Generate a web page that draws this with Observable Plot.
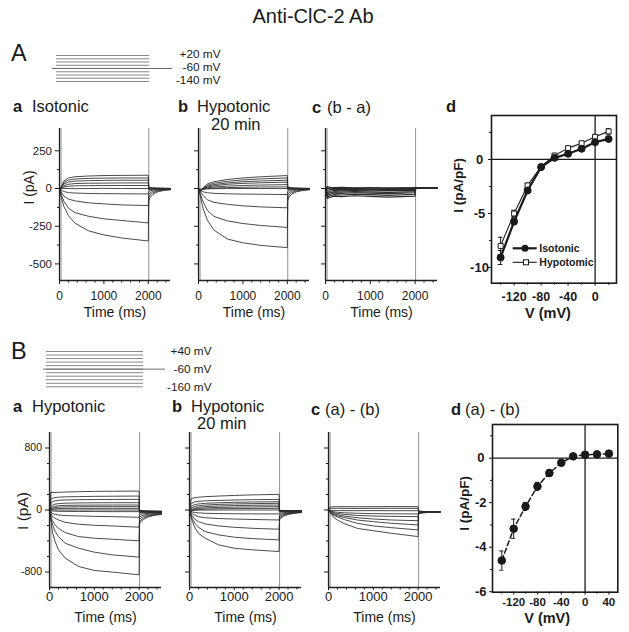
<!DOCTYPE html>
<html><head><meta charset="utf-8">
<script src="https://cdn.jsdelivr.net/npm/d3@7"></script>
<script src="https://cdn.jsdelivr.net/npm/@observablehq/plot@0.6"></script>
<style>
html,body{margin:0;padding:0;background:#fff;}
#fig{position:relative;width:629px;height:632px;overflow:hidden;background:#fff;font-family:"Liberation Sans",Arial,Helvetica,sans-serif;color:#111;}
</style></head><body><div id="fig"></div>
<script>
// ---------------- DATA ----------------
const title = "Anti-ClC-2 Ab";
// voltage protocols (mV) and timing (ms)
const protoA_steps = [-140, -120, -100, -80, -60, -40, -20, 0, 20];
const protoA_hold = -60;
const protoA_stepSpan = [0, 2000];
const protoA_holdSpan = [-86, 2487];
const protoA_labelV = [20, -60, -140];
const protoA_labels = ["+20 mV", "-60 mV", "-140 mV"];
const protoB_steps = [-160, -140, -120, -100, -80, -60, -40, -20, 0, 20, 40];
const protoB_hold = -60;
const protoB_stepSpan = [0, 2000];
const protoB_holdSpan = [-62, 2454];
const protoB_labelV = [40, -60, -160];
const protoB_labels = ["+40 mV", "-60 mV", "-160 mV"];

// current traces (pA) sampled at these times (ms)
const timesA = [0, 40, 100, 200, 350, 650, 1000, 1400, 2000];
const tailTimesA = [2010, 2040, 2100, 2200, 2350, 2500];
const Aa_traces = [
  [0, 10, 50, 70, 78, 83, 86, 87, 88],
  [0, 8, 40, 56, 63, 67, 69, 70, 70],
  [0, 6, 30, 43, 49, 52, 54, 55, 55],
  [0, 4, 18, 28, 33, 35, 36, 37, 37],
  [0, 2, 10, 15, 18, 19, 20, 20, 20],
  [0, -1, 1, 0, -1, 0, 1, 0, 0],
  [0, -10, -20, -27, -30, -33, -34, -35, -36],
  [0, -25, -50, -70, -82, -95, -102, -109, -113],
  [0, -40, -85, -130, -160, -184, -201, -212, -228],
  [0, -60, -120, -180, -230, -280, -308, -328, -348]
];
const Aa_tails = [
  [8, 6, 4, 3, 2, 1], [5, 4, 3, 2, 1, 0], [3, 2, 1, 0, 0, 0], [0, 0, 0, -1, -1, -1],
  [-4, -3, -3, -2, -2, -2], [-10, -8, -6, -4, -3, -3], [-22, -16, -11, -7, -5, -4],
  [-40, -29, -19, -12, -7, -5], [-60, -43, -29, -17, -10, -7], [-82, -60, -40, -23, -13, -8]
];
const Ab_traces = [
  [0, -20, 5, 30, 45, 60, 70, 78, 86],
  [0, -18, 0, 22, 35, 48, 57, 64, 70],
  [0, -15, -2, 15, 26, 37, 45, 50, 55],
  [0, -12, -3, 10, 18, 28, 34, 38, 42],
  [0, -10, -4, 5, 10, 16, 20, 23, 26],
  [0, -8, -5, 0, 3, 6, 8, 10, 11],
  [0, -5, -3, -2, -1, 0, 0, 0, 0],
  [0, -12, -22, -28, -32, -35, -37, -38, -40],
  [0, -20, -45, -75, -92, -105, -115, -122, -128],
  [0, -35, -85, -145, -185, -215, -232, -245, -258],
  [0, -50, -130, -210, -276, -335, -360, -377, -392]
];
const Ab_tails = [
  [8, 6, 4, 3, 2, 1], [6, 5, 3, 2, 1, 0], [4, 3, 2, 1, 0, 0], [2, 1, 1, 0, 0, -1],
  [0, 0, -1, -1, -1, -1], [-3, -3, -2, -2, -2, -2], [-8, -6, -5, -4, -3, -3],
  [-20, -15, -10, -7, -5, -4], [-38, -28, -18, -11, -7, -5], [-58, -42, -28, -17, -10, -7],
  [-78, -57, -38, -22, -13, -8]
];
const Ac_traces = [
  [0, 12, 8, 6, 7, 5, 6, 5, 6],
  [0, 2, -2, 0, -1, 1, -2, -1, 0],
  [0, -12, -8, -6, -8, -7, -6, -8, -7],
  [0, -28, -18, -14, -16, -13, -15, -14, -12],
  [0, -38, -28, -22, -24, -20, -23, -25, -20],
  [0, -48, -38, -30, -33, -28, -31, -34, -28],
  [0, -56, -48, -40, -43, -38, -41, -45, -38],
  [0, -66, -58, -50, -54, -48, -52, -57, -50]
];
const Ac_tails = [
  [6, 5, 5, 4, 4, 4], [5, 4, 4, 4, 3, 3], [4, 4, 3, 3, 3, 3], [3, 3, 3, 2, 3, 2],
  [2, 2, 3, 2, 2, 2], [1, 2, 2, 2, 2, 2], [0, 1, 1, 2, 1, 1], [-2, 0, 1, 1, 1, 1]
];

const timesB = [0, 30, 60, 120, 200, 350, 650, 1000, 1400, 2000];
const tailTimesB = [2010, 2040, 2100, 2200, 2350, 2500];
const Ba_traces = [
  [0, 230, 225, 226, 228, 232, 236, 240, 242, 244],
  [0, 140, 150, 160, 165, 170, 173, 176, 178, 180],
  [0, 80, 105, 118, 125, 130, 133, 135, 136, 137],
  [0, 40, 60, 75, 82, 88, 91, 93, 94, 94],
  [0, 20, 35, 48, 55, 60, 62, 63, 64, 64],
  [0, 10, 20, 30, 36, 40, 42, 43, 43, 43],
  [0, 5, 10, 15, 18, 20, 21, 21, 21, 21],
  [0, -2, 0, 1, 0, -1, 0, 1, 0, 0],
  [0, -8, -12, -15, -17, -18, -19, -20, -21, -21],
  [0, -25, -43, -55, -64, -72, -77, -82, -86, -94],
  [0, -45, -80, -105, -129, -159, -184, -197, -206, -222],
  [0, -75, -135, -190, -236, -292, -343, -364, -377, -398],
  [0, -100, -180, -270, -343, -429, -493, -544, -579, -608],
  [0, -130, -270, -400, -514, -621, -729, -780, -801, -836]
];
const Ba_tails = [
  [-5, -8, -10, -12, -14, -15], [-8, -10, -12, -14, -16, -17], [-10, -12, -14, -16, -18, -19],
  [-12, -14, -16, -18, -20, -21], [-15, -17, -19, -21, -22, -23], [-18, -20, -22, -23, -24, -25],
  [-22, -24, -25, -26, -27, -27], [-30, -30, -30, -30, -30, -30], [-40, -38, -36, -34, -33, -32],
  [-60, -55, -50, -44, -40, -37], [-90, -80, -68, -56, -47, -42], [-120, -105, -85, -68, -55, -47],
  [-150, -130, -105, -80, -62, -52], [-175, -150, -120, -90, -68, -57]
];
const Bb_traces = [
  [0, 140, 150, 160, 165, 172, 180, 188, 195, 202],
  [0, 70, 90, 105, 112, 118, 124, 129, 133, 137],
  [0, 30, 55, 70, 78, 86, 93, 99, 103, 107],
  [0, 10, 30, 45, 55, 64, 72, 78, 82, 86],
  [0, -5, 10, 25, 35, 44, 52, 57, 61, 64],
  [0, -10, 0, 12, 20, 27, 33, 37, 40, 43],
  [0, -12, -5, 3, 8, 12, 16, 18, 20, 21],
  [0, -15, -8, -4, -2, -1, 0, 0, 0, 0],
  [0, -20, -25, -32, -37, -42, -46, -48, -50, -51],
  [0, -30, -45, -65, -86, -100, -110, -117, -122, -129],
  [0, -45, -75, -120, -150, -180, -206, -223, -236, -248],
  [0, -60, -110, -170, -223, -279, -321, -351, -369, -386],
  [0, -80, -140, -230, -300, -364, -450, -493, -514, -536]
];
const Bb_tails = [
  [-3, -5, -6, -7, -8, -9], [-6, -7, -8, -9, -10, -10], [-9, -10, -11, -11, -12, -12],
  [-12, -13, -13, -13, -14, -14], [-15, -15, -15, -15, -15, -15], [-18, -18, -17, -17, -16, -16],
  [-22, -21, -20, -19, -18, -17], [-28, -26, -24, -22, -20, -19], [-45, -40, -34, -28, -24, -21],
  [-65, -57, -47, -36, -29, -24], [-85, -73, -58, -44, -34, -27], [-105, -88, -69, -51, -38, -30],
  [-125, -103, -80, -58, -42, -33]
];
const Bc_traces = [
  [0, 35, 40, 42, 43, 43, 42, 43, 44, 43],
  [0, 18, 20, 21, 22, 21, 20, 21, 22, 21],
  [0, -5, -6, -7, -8, -8, -9, -8, -9, -9],
  [0, -8, -14, -24, -30, -36, -42, -47, -49, -51],
  [0, -12, -22, -35, -45, -56, -70, -78, -82, -86],
  [0, -15, -30, -48, -60, -78, -100, -116, -129, -138],
  [0, -20, -38, -60, -75, -96, -130, -150, -171, -193],
  [0, -25, -45, -70, -90, -123, -173, -206, -228, -257],
  [0, -30, -55, -100, -130, -175, -238, -267, -300, -343]
];
const Bc_tails = [
  [-10, -14, -18, -21, -23, -24], [-14, -17, -20, -22, -24, -25], [-18, -20, -22, -23, -24, -25],
  [-22, -23, -24, -25, -25, -25], [-28, -27, -26, -26, -25, -25], [-34, -31, -29, -27, -26, -26],
  [-40, -36, -32, -29, -27, -26], [-45, -40, -35, -31, -28, -27], [-50, -44, -38, -33, -29, -27]
];
const transientTimes = [35, 2010];

// axis ticks of trace panels
const traceXTicks = [0, 1000, 2000];
const traceXMinor = [200, 400, 600, 800, 1200, 1400, 1600, 1800, 2200, 2400];
const A_yTicks = [250, 0, -250, -500];
const A_yMinor = [125, -125, -375];
const B_yTicks = [800, 0, -800];
const B_yMinor = [600, 400, 200, -200, -400, -600];

// I-V data (pA/pF)
const ivV_A = [-140, -120, -100, -80, -60, -40, -20, 0, 20];
const ivIso = [-9.07, -5.74, -2.87, -0.71, 0.15, 0.53, 0.99, 1.6, 1.9];
const ivIsoErr = [0.65, 0.3, 0.2, 0.15, 0.1, 0.1, 0.12, 0.15, 0.15];
const ivHypo = [-8.0, -5.0, -2.4, -0.65, 0.37, 1.05, 1.5, 2.1, 2.6];
const ivHypoErr = [0.8, 0.3, 0.2, 0.15, 0.1, 0.12, 0.15, 0.2, 0.25];
const ivV_B = [-140, -120, -100, -80, -60, -40, -20, 0, 20, 40];
const ivDiff = [-4.6, -3.17, -2.17, -1.27, -0.67, -0.21, 0.08, 0.15, 0.17, 0.2];
const ivDiffErr = [0.43, 0.43, 0.18, 0.18, 0.15, 0.12, 0.05, 0.05, 0.05, 0.05];
const Ad_xTicks = [-120, -80, -40, 0];
const Ad_xMinor = [-140, -100, -60, -20, 20];
const Ad_yTicks = [-10, -5, 0];
const Ad_yMinor = [-7.5, -2.5, 2.5];
const Bd_xTicks = [-120, -80, -40, 0, 40];
const Bd_xMinor = [-140, -100, -60, -20, 20];
const Bd_yTicks = [-6, -4, -2, 0];
const Bd_yMinor = [-5, -3, -1, 1];
const legendNames = ["Isotonic", "Hypotomic"];

// ---------------- DRAWING ----------------
const fig = document.getElementById("fig");
const FONT = '"Liberation Sans", Arial, Helvetica, sans-serif';
const INK = "#1a1a1a";

function put(el, left, top) {
  el.style.position = "absolute";
  el.style.left = left + "px";
  el.style.top = top + "px";
  el.style.maxWidth = "none";
  el.style.background = "transparent";
  el.style.overflow = "visible";
  fig.appendChild(el);
}
function label(txt, x, baseline, size, opts = {}) {
  const d = document.createElement("div");
  d.textContent = txt;
  d.style.cssText = `position:absolute;white-space:nowrap;font-family:${FONT};font-size:${size}px;line-height:1;font-weight:${opts.bold ? "bold" : "normal"};color:${INK};`;
  d.style.top = (baseline - 0.8465 * size) + "px";
  d.style.left = x + "px";
  if (opts.anchor === "middle") d.style.transform = "translateX(-50%)";
  fig.appendChild(d);
}

function protocol(steps, hold, stepSpan, holdSpan, labelV, labels, frame, xDomain, yDomain, dy) {
  const mL = 2, mR = 2, mT = 6, mB = 6;
  const svg = Plot.plot({
    width: frame.w + mL + mR, height: frame.h + mT + mB,
    marginLeft: mL, marginRight: mR, marginTop: mT, marginBottom: mB,
    x: {domain: xDomain, axis: null}, y: {domain: yDomain, axis: null},
    style: {fontFamily: FONT, color: INK},
    marks: [
      Plot.ruleY(steps, {y: d => d, x1: () => stepSpan[0], x2: () => stepSpan[1], stroke: "#7a7a7a", strokeWidth: 0.9}),
      Plot.ruleY([hold], {y: d => d, x1: () => holdSpan[0], x2: () => holdSpan[1], stroke: "#6a6a6a", strokeWidth: 1}),
      Plot.text(labelV, {y: d => d, text: (d, i) => labels[i], frameAnchor: "right", textAnchor: "end", lineAnchor: "middle", fontSize: 11.8, dy, fill: INK})
    ]
  });
  put(svg, frame.x - mL, frame.y - mT);
}

function tracePanel(c) {
  const mL = 60, mR = 12, mT = 10, mB = 45;
  const rows = [];
  c.traces.forEach((vals, i) => {
    vals.forEach((v, j) => rows.push({id: i, t: c.times[j], v}));
    c.tails[i].forEach((v, j) => rows.push({id: i, t: c.tailTimes[j], v}));
  });
  const marks = [
    Plot.ruleX(transientTimes, {x: d => d, stroke: "#9a9a9a", strokeWidth: 1.1}),
    Plot.line(rows, {x: "t", y: "v", z: "id", stroke: "#2a2a2a", strokeWidth: c.lw || 0.85}),
    Plot.ruleX([0], {x: d => d, stroke: "#222", strokeWidth: 1.3}),
    Plot.ruleY([c.yDomain[0]], {y: d => d, stroke: "#222", strokeWidth: 1.3}),
    Plot.axisX({ticks: traceXTicks, tickSize: c.xTickSize, tickPadding: c.xTickPad, tickFormat: d => String(d), fontSize: c.xTickFont, label: null}),
    Plot.axisX({ticks: traceXMinor, tickSize: 2.5, tickFormat: () => "", label: null}),
    Plot.axisY({ticks: c.yTicks, tickSize: 4, tickPadding: 3.5, tickFormat: c.showY ? (d => String(d)) : (() => ""), fontSize: c.yTickFont, label: null}),
    Plot.axisY({ticks: c.yMinor, tickSize: 2, tickFormat: () => "", label: null}),
    Plot.text(["Time (ms)"], {text: d => d, frameAnchor: "bottom", lineAnchor: "middle", textAnchor: "middle", dy: c.timeDy, fontSize: 14, fill: INK})
  ];
  if (c.yLabel) marks.push(Plot.text([c.yLabel], {text: d => d, frameAnchor: "left", lineAnchor: "middle", textAnchor: "middle", rotate: -90, dx: c.yLabelDx, dy: c.yLabelDy, fontSize: c.yLabelSize, fill: INK}));
  const svg = Plot.plot({
    width: c.fw + mL + mR, height: c.fh + mT + mB,
    marginLeft: mL, marginRight: mR, marginTop: mT, marginBottom: mB,
    x: {domain: [0, 2500]}, y: {domain: c.yDomain},
    style: {fontFamily: FONT, fontSize: "12px", color: INK},
    marks
  });
  put(svg, c.fl - mL, c.ft - mT);
}

function ivPanel(c) {
  const mL = 60, mR = 12, mT = 10, mB = 45;
  const marks = [
    Plot.ruleY([0], {y: d => d, stroke: INK, strokeWidth: 1.3}),
    Plot.ruleX([0], {x: d => d, stroke: INK, strokeWidth: 1.3})
  ];
  c.series.forEach(s => {
    marks.push(
      Plot.ruleX(s.rows, {x: "v", y1: d => d.i - d.e, y2: d => d.i + d.e, stroke: INK, strokeWidth: 1}),
      Plot.ruleY(s.rows, {y: d => d.i + d.e, x1: d => d.v - c.cap, x2: d => d.v + c.cap, stroke: INK, strokeWidth: 1}),
      Plot.ruleY(s.rows, {y: d => d.i - d.e, x1: d => d.v - c.cap, x2: d => d.v + c.cap, stroke: INK, strokeWidth: 1}),
      Plot.line(s.rows, {x: "v", y: "i", stroke: INK, strokeWidth: s.lineWidth, strokeDasharray: s.dash}),
      Plot.dot(s.rows, {x: "v", y: "i", symbol: s.symbol, r: s.r, fill: s.fill, stroke: INK, strokeWidth: 1})
    );
  });
  marks.push(
    Plot.frame({stroke: INK, strokeWidth: 1.6}),
    Plot.axisX({ticks: c.xTicks, tickSize: 3, tickPadding: c.xTickPad, tickFormat: d => String(d), label: null, fontWeight: "bold", fontSize: c.xTickFont}),
    Plot.axisX({ticks: c.xMinor, tickSize: 2, tickFormat: () => "", label: null}),
    Plot.axisY({ticks: c.yTicks, tickSize: 3, tickPadding: c.yTickPad, textAnchor: "middle", tickFormat: d => String(d), label: null, fontWeight: "bold", fontSize: 13}),
    Plot.axisY({ticks: c.yMinor, tickSize: 2, tickFormat: () => "", label: null}),
    Plot.text(["V (mV)"], {text: d => d, frameAnchor: "bottom", lineAnchor: "middle", textAnchor: "middle", dx: c.xLabelDx, dy: c.xLabelDy, fontSize: 14.5, fontWeight: "bold", fill: INK}),
    Plot.text(["I (pA/pF)"], {text: d => d, frameAnchor: "left", lineAnchor: "middle", textAnchor: "middle", rotate: -90, dx: c.yLabelDx, dy: c.yLabelDy, fontSize: 13.5, fontWeight: "bold", fill: INK})
  );
  const svg = Plot.plot({
    width: c.fw + mL + mR, height: c.fh + mT + mB,
    marginLeft: mL, marginRight: mR, marginTop: mT, marginBottom: mB,
    x: {domain: c.xDomain}, y: {domain: c.yDomain},
    style: {fontFamily: FONT, fontSize: "12px", color: INK},
    marks
  });
  put(svg, c.fl - mL, c.ft - mT);
}

// ---- Title and section letters
label(title, 313, 23, 20, {anchor: "middle"});
label("A", 11, 62, 23.5);
label("B", 11, 360, 23.5);

// ---- Protocols
protocol(protoA_steps, protoA_hold, protoA_stepSpan, protoA_holdSpan, protoA_labelV, protoA_labels,
  {x: 52, y: 55, w: 168, h: 26}, [-86, 3516], [-140, 20], -1.5);
protocol(protoB_steps, protoB_hold, protoB_stepSpan, protoB_holdSpan, protoB_labelV, protoB_labels,
  {x: 43, y: 350.7, w: 168, h: 35.3}, [-62, 3402], [-160, 40], 0);

// ---- Panel titles row A
label("a", 13, 112, 16.5, {bold: true}); label("Isotonic", 32, 112, 16.5);
label("b", 178, 112, 16.5, {bold: true}); label("Hypotonic", 197, 112, 16.5); label("20 min", 211, 129.5, 16.5);
label("c", 312, 113, 16.5, {bold: true}); label("(b - a)", 327, 113, 16.5);
label("d", 446, 112, 16.5, {bold: true});
// ---- Panel titles row B
label("a", 13, 412, 16.5, {bold: true}); label("Hypotonic", 32, 412, 16.5);
label("b", 172, 412, 16.5, {bold: true}); label("Hypotonic", 191, 412, 16.5); label("20 min", 197, 429, 16.5);
label("c", 311, 415, 16.5, {bold: true}); label("(a) - (b)", 325, 415, 16.5);
label("d", 451, 415, 16.5, {bold: true}); label("(a) - (b)", 465, 415, 16.5);

// ---- Trace panels
const Acommon = {ft: 128, fw: 111, fh: 152, yDomain: [-610, 398], yTicks: A_yTicks, yMinor: A_yMinor,
  times: timesA, tailTimes: tailTimesA, xTickSize: 4, xTickPad: 6.7, xTickFont: 12, yTickFont: 11.5, timeDy: 31.7};
tracePanel({...Acommon, fl: 59.3, traces: Aa_traces, tails: Aa_tails, showY: true, yLabel: "I (pA)", yLabelDx: -29.6, yLabelDy: -17, yLabelSize: 14});
tracePanel({...Acommon, fl: 198.3, traces: Ab_traces, tails: Ab_tails, showY: false});
tracePanel({...Acommon, fl: 324.5, fw: 112, traces: Ac_traces, tails: Ac_tails, showY: false, lw: 1.2});

const Bcommon = {ft: 432, fw: 112, fh: 155, yDomain: [-1000, 1000], yTicks: B_yTicks, yMinor: B_yMinor,
  times: timesB, tailTimes: tailTimesB, xTickSize: 3, xTickPad: 1.5, xTickFont: 13, yTickFont: 10.5, timeDy: 30};
tracePanel({...Bcommon, fl: 49.3, traces: Ba_traces, tails: Ba_tails, showY: true, yLabel: "I (pA)", yLabelDx: -26, yLabelDy: 1, yLabelSize: 15.5});
tracePanel({...Bcommon, fl: 189.3, traces: Bb_traces, tails: Bb_tails, showY: false});
tracePanel({...Bcommon, fl: 327.5, traces: Bc_traces, tails: Bc_tails, showY: false});

// ---- I-V panels
const isoRows = ivV_A.map((v, k) => ({v, i: ivIso[k], e: ivIsoErr[k]}));
const hypoRows = ivV_A.map((v, k) => ({v, i: ivHypo[k], e: ivHypoErr[k]}));
const diffRows = ivV_B.map((v, k) => ({v, i: ivDiff[k], e: ivDiffErr[k]}));
ivPanel({fl: 490.7, ft: 115, fw: 125, fh: 167.7, xDomain: [-153.5, 31.7], yDomain: [-11.45, 4.07],
  xTicks: Ad_xTicks, xMinor: Ad_xMinor, yTicks: Ad_yTicks, yMinor: Ad_yMinor, cap: 3.5, xTickFont: 12.5,
  xTickPad: 6, xLabelDx: -6, xLabelDy: 30, yLabelDx: -32.7, yLabelDy: -14,
  yTickPad: 9,
  series: [
    {rows: hypoRows, lineWidth: 1.1, dash: null, symbol: "square", r: 2.8, fill: "white"},
    {rows: isoRows, lineWidth: 2.2, dash: null, symbol: "circle", r: 3.5, fill: INK}
  ]});
ivPanel({fl: 491.7, ft: 424, fw: 125.3, fh: 167.7, xDomain: [-155.6, 55], yDomain: [-6.02, 1.51],
  xTicks: Bd_xTicks, xMinor: Bd_xMinor, yTicks: Bd_yTicks, yMinor: Bd_yMinor, cap: 3.5, xTickFont: 11.5,
  xTickPad: 3, yTickPad: 8.7, xLabelDx: -8, xLabelDy: 26, yLabelDx: -28, yLabelDy: -5,
  series: [
    {rows: diffRows, lineWidth: 1.5, dash: "5,3", symbol: "circle", r: 3.8, fill: INK}
  ]});

// ---- Legend of panel A-d
(function () {
  const NS = "http://www.w3.org/2000/svg";
  const s = document.createElementNS(NS, "svg");
  s.setAttribute("width", 40); s.setAttribute("height", 30);
  s.innerHTML =
    `<line x1="2.7" y1="8.3" x2="26.7" y2="8.3" stroke="${INK}" stroke-width="2.2"/>` +
    `<circle cx="15" cy="8.3" r="3.5" fill="${INK}"/>` +
    `<line x1="2.7" y1="22.3" x2="26.7" y2="22.3" stroke="${INK}" stroke-width="1.1"/>` +
    `<rect x="13.5" y="19.8" width="5" height="5" fill="white" stroke="${INK}" stroke-width="1"/>`;
  put(s, 510, 240);
  label(legendNames[0], 539.3, 252, 10.5, {bold: true});
  label(legendNames[1], 539.3, 266, 10.5, {bold: true});
})();
</script></body></html>
